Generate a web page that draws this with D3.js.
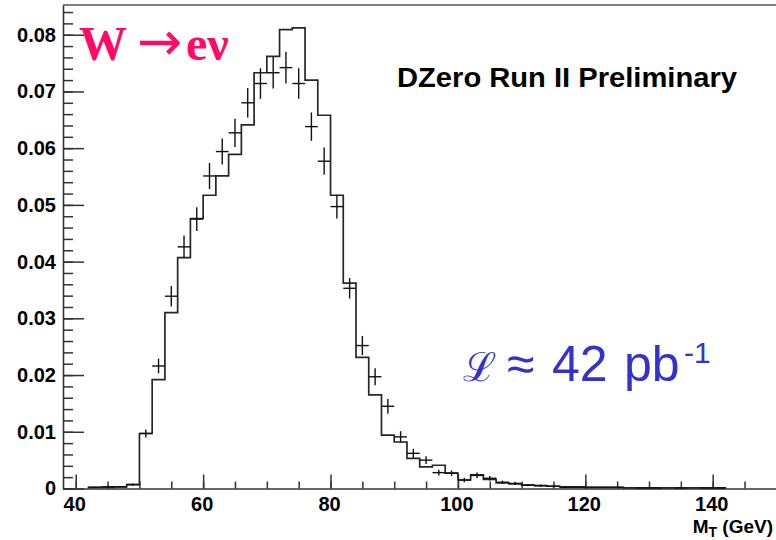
<!DOCTYPE html>
<html>
<head>
<meta charset="utf-8">
<script src="https://cdn.jsdelivr.net/npm/d3@7"></script>
<style>
  html, body { margin: 0; padding: 0; background: #ffffff; }
  svg { display: block; }
</style>
</head>
<body>
<svg id="chart" width="776" height="540"></svg>
<script>
// ---- data ----
// MC histogram: left bin edges (GeV), bin width 2 GeV
const binLeft = [42,44,46,48,50,52,54,56,58,60,62,64,66,68,70,72,74,76,78,80,82,84,86,88,90,92,94,96,98,100,102,104,106,108,110,112,114,116,118,120,122,124,126,128,130,132,134,136,138,140];
const mcValues = [0.0002,0.0002,0.0003,0.0007,0.0097,0.0192,0.0310,0.0407,0.0476,0.0517,0.0551,0.0589,0.0641,0.0733,0.0762,0.0809,0.0812,0.0720,0.0658,0.0517,0.0362,0.0231,0.0165,0.0094,0.0082,0.0053,0.0038,0.0041,0.0027,0.0015,0.0024,0.0016,0.0010,0.0008,0.0006,0.0005,0.0004,0.0003,0.0003,0.0002,0.0002,0.0002,0.0001,0.0001,0.0001,0.0001,0.0001,0.0001,0.0001,0.0001];
const binWidth = 2;

// Data points: bin centres, values, errors
const dataX = [43,45,47,49,51,53,55,57,59,61,63,65,67,69,71,73,75,77,79,81,83,85,87,89,91,93,95,97,99,101,103,105,107,109,111,113,115,117,119,121,123,125,129,131,135,139,141];
const dataY = [0.0002,0.0003,0.0003,0.0007,0.0097,0.0216,0.0339,0.0426,0.0475,0.0551,0.0594,0.0627,0.0680,0.0714,0.0733,0.0742,0.0714,0.0638,0.0577,0.0497,0.0353,0.0252,0.0197,0.0145,0.0091,0.0062,0.0050,0.0028,0.0027,0.0015,0.0023,0.0018,0.0011,0.0009,0.0006,0.0005,0.0004,0.0002,0.0002,0.0002,0.0002,0.0002,0.0001,0.0001,0.0001,0.0001,0.0001];
const dataErr = [0.0001,0.0002,0.0001,0.0002,0.0007,0.0013,0.0018,0.0020,0.0021,0.0023,0.0023,0.0025,0.0026,0.0027,0.0028,0.0028,0.0027,0.0025,0.0024,0.0021,0.0018,0.0017,0.0015,0.0013,0.0010,0.0008,0.0007,0.0005,0.0005,0.0004,0.0005,0.0004,0.0003,0.0003,0.0002,0.0002,0.0002,0.0001,0.0001,0.0001,0.0001,0.0001,0.0001,0.0001,0.0001,0.0001,0.0001];

// axes ticks
const xMajorTicks = [40,60,80,100,120,140];
const xMinorTicks = [40,45,50,55,60,65,70,75,80,85,90,95,100,105,110,115,120,125,130,135,140,145];
const yMajorTicks = [0,0.01,0.02,0.03,0.04,0.05,0.06,0.07,0.08];
const yMinorTicks = [0,0.002,0.004,0.006,0.008,0.01,0.012,0.014,0.016,0.018,0.02,0.022,0.024,0.026,0.028,0.03,0.032,0.034,0.036,0.038,0.04,0.042,0.044,0.046,0.048,0.05,0.052,0.054,0.056,0.058,0.06,0.062,0.064,0.066,0.068,0.07,0.072,0.074,0.076,0.078,0.08,0.082,0.084];
const xDomain = [38,150];
const yDomain = [0,0.08524];

// ---- layout ----
const svg = d3.select("#chart");
const L = 63, R = 776.4, T = 5, B = 488.5;
const x = d3.scaleLinear().domain(xDomain).range([L, R]);
const y = d3.scaleLinear().domain(yDomain).range([B, T]);

const axisColor = "#333";
const sans = "'Liberation Sans', Arial, Helvetica, sans-serif";

// frame (top line)
svg.append("line").attr("x1", L).attr("x2", 776).attr("y1", T).attr("y2", T)
  .attr("stroke", "#555").attr("stroke-width", 1.6);

// y axis minor
svg.append("g").attr("transform", `translate(${L},0)`)
  .call(d3.axisLeft(y).tickValues(yMinorTicks).tickSizeInner(-10).tickSizeOuter(0).tickFormat(""))
  .call(g => g.select(".domain").remove())
  .call(g => g.selectAll("line").attr("stroke", axisColor).attr("stroke-width", 1.5));

// y axis major
svg.append("g").attr("transform", `translate(${L},0)`)
  .call(d3.axisLeft(y).tickValues(yMajorTicks).tickSizeInner(-21).tickSizeOuter(0).tickPadding(7)
    .tickFormat(d => d === 0 ? "0" : d3.format(".2f")(d)))
  .call(g => g.select(".domain").attr("stroke", axisColor).attr("stroke-width", 1.6))
  .call(g => g.selectAll("line").attr("stroke", axisColor).attr("stroke-width", 1.5))
  .call(g => g.selectAll("text").attr("font-family", sans).attr("font-weight", "bold")
     .attr("font-size", 20).attr("fill", "#000"));

// x axis minor
svg.append("g").attr("transform", `translate(0,${B})`)
  .call(d3.axisBottom(x).tickValues(xMinorTicks).tickSizeInner(-7).tickSizeOuter(0).tickFormat(""))
  .call(g => g.select(".domain").remove())
  .call(g => g.selectAll("line").attr("stroke", axisColor).attr("stroke-width", 1.5));

// x axis major
svg.append("g").attr("transform", `translate(0,${B})`)
  .call(d3.axisBottom(x).tickValues(xMajorTicks).tickSizeInner(-14).tickSizeOuter(0).tickPadding(8))
  .call(g => g.select(".domain").attr("stroke", axisColor).attr("stroke-width", 1.6))
  .call(g => g.selectAll("line").attr("stroke", axisColor).attr("stroke-width", 1.5))
  .call(g => g.selectAll("text").attr("font-family", sans).attr("font-weight", "bold")
     .attr("font-size", 20).attr("fill", "#000").attr("dx", "-1.5"));

// ---- MC histogram (step line) ----
const histPts = [[binLeft[0], 0]];
binLeft.forEach((e, i) => histPts.push([e, mcValues[i]]));
const lastEdge = binLeft[binLeft.length - 1] + binWidth;
histPts.push([lastEdge, mcValues[mcValues.length - 1]]);
histPts.push([lastEdge, 0]);
const stepLine = d3.line().x(d => x(d[0])).y(d => y(d[1])).curve(d3.curveStepAfter);
svg.append("path").datum(histPts)
  .attr("d", stepLine)
  .attr("fill", "none").attr("stroke", "#262626").attr("stroke-width", 1.7);

// ---- data crosses ----
const pts = svg.append("g").attr("stroke", "#111").attr("stroke-width", 1.4);
dataX.forEach((cx, i) => {
  pts.append("line")
    .attr("x1", x(cx - binWidth / 2)).attr("x2", x(cx + binWidth / 2))
    .attr("y1", y(dataY[i])).attr("y2", y(dataY[i]));
  pts.append("line")
    .attr("x1", x(cx)).attr("x2", x(cx))
    .attr("y1", y(dataY[i] - dataErr[i])).attr("y2", y(dataY[i] + dataErr[i]));
});

// ---- annotations ----
const title = svg.append("text").attr("y", 60).attr("fill", "#ff0a64")
  .attr("font-family", "'Liberation Serif', 'Times New Roman', serif").attr("font-size", 48);
title.append("tspan").attr("x", 79).attr("font-weight", "bold").text("W");
title.append("tspan").attr("x", 137).attr("font-family", "'DejaVu Sans', sans-serif")
  .attr("font-weight", "normal").attr("font-size", 54).text("\u2192");
title.append("tspan").attr("x", 186).attr("font-weight", "bold").text("e\u03BD");

svg.append("text").attr("x", 397).attr("y", 87)
  .attr("font-family", sans).attr("font-weight", "bold").attr("font-size", 27)
  .attr("textLength", 340).attr("lengthAdjust", "spacingAndGlyphs")
  .attr("fill", "#000").text("DZero Run II Preliminary");

const lumi = svg.append("text").attr("y", 381).attr("fill", "#3333cc")
  .attr("font-family", sans).attr("font-size", 50);
lumi.append("tspan").attr("x", 463).attr("font-family", "'DejaVu Serif', serif")
  .attr("font-size", 40).text("\u2112");
lumi.append("tspan").attr("x", 507).text("\u2248");
lumi.append("tspan").attr("x", 552).text("42");
lumi.append("tspan").attr("x", 624).text("pb");
lumi.append("tspan").attr("x", 684).attr("y", 363).attr("font-size", 30).text("-1");

const xt = svg.append("text").attr("x", 773).attr("y", 533).attr("text-anchor", "end")
  .attr("font-family", sans).attr("font-weight", "bold").attr("font-size", 19).attr("fill", "#000");
xt.append("tspan").text("M");
xt.append("tspan").attr("font-size", 14).attr("dy", 4).text("T");
xt.append("tspan").attr("dy", -4).text(" (GeV)");
</script>
</body>
</html>
